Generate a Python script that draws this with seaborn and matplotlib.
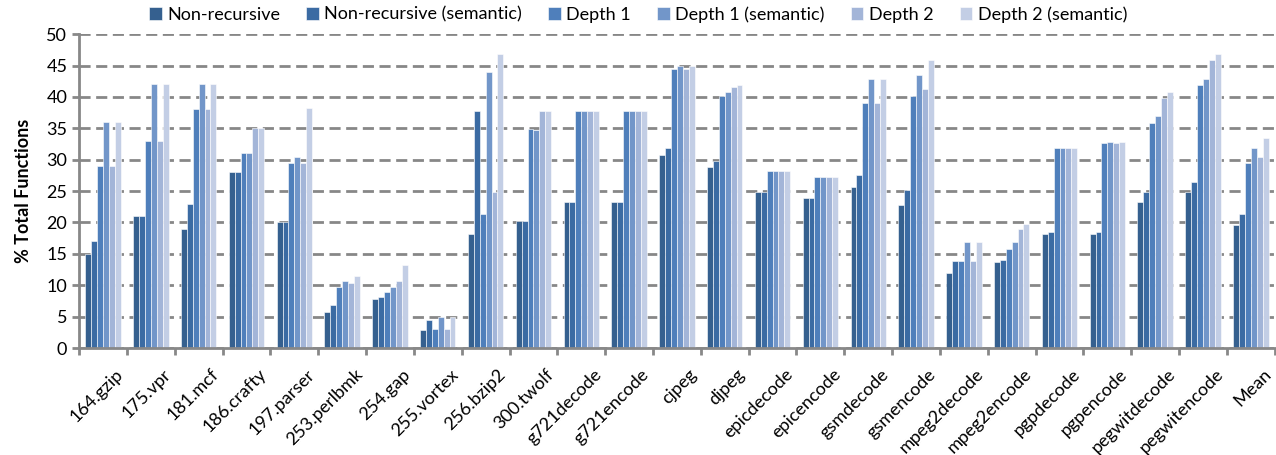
import matplotlib.pyplot as plt
import matplotlib.ticker as mticker
import matplotlib.transforms as mtrans
import pandas as pd
import seaborn as sb
import numpy as np

benchmarks = ['164.gzip', '175.vpr', '181.mcf', '186.crafty', '197.parser', '253.perlbmk',
              '254.gap', '255.vortex', '256.bzip2', '300.twolf', 'g721decode', 'g721encode',
              'cjpeg', 'djpeg', 'epicdecode', 'epicencode', 'gsmdecode', 'gsmencode',
              'mpeg2decode', 'mpeg2encode', 'pgpdecode', 'pgpencode', 'pegwitdecode',
              'pegwitencode', 'Mean']
series = ['Non-recursive', 'Non-recursive (semantic)', 'Depth 1', 'Depth 1 (semantic)',
          'Depth 2', 'Depth 2 (semantic)']

non_rec = [15, 21, 19, 28, 20, 5.7, 7.8, 2.8, 18.2, 20.3, 23.2, 23.2, 30.8, 28.9, 24.9,
           23.9, 25.7, 22.8, 11.9, 13.7, 18.2, 18.2, 23.2, 24.9, 19.6]
non_rec_sem = [17, 21, 23, 28, 20, 6.9, 8.2, 4.4, 37.8, 20.3, 23.2, 23.2, 31.9, 29.8, 24.9,
               23.9, 27.6, 25.2, 13.9, 14.1, 18.5, 18.5, 24.9, 26.4, 21.4]
depth1 = [29, 33, 38, 31, 29.5, 9.8, 8.9, 3.0, 21.4, 34.9, 37.8, 37.8, 44.4, 40.2, 28.2,
          27.3, 39.0, 40.2, 13.9, 15.7, 31.9, 32.6, 35.8, 41.9, 29.4]
depth1_sem = [36, 42, 42, 31, 30.4, 10.7, 9.8, 5.0, 44.0, 34.8, 37.8, 37.8, 44.9, 40.8, 28.2,
              27.3, 42.9, 43.5, 16.9, 16.9, 31.9, 32.8, 36.9, 42.9, 31.9]
depth2 = [29, 33, 38, 35, 29.5, 10.3, 10.7, 3.0, 24.9, 37.8, 37.8, 37.8, 44.4, 41.5, 28.2,
          27.3, 39.0, 41.3, 13.9, 18.9, 31.9, 32.6, 39.9, 45.9, 30.5]
depth2_sem = [36, 42, 42, 35, 38.2, 11.4, 13.2, 4.9, 46.9, 37.8, 37.8, 37.8, 44.9, 41.9, 28.2,
              27.3, 42.9, 45.9, 16.9, 19.8, 31.9, 32.8, 40.8, 46.9, 33.5]

colors = ['#35608f', '#3b6ba3', '#4f7fbb', '#7296c9', '#a3b5d8', '#c3cee5']

values = [non_rec, non_rec_sem, depth1, depth1_sem, depth2, depth2_sem]
df = pd.DataFrame({
    'bench': np.tile(benchmarks, len(series)),
    'series': np.repeat(series, len(benchmarks)),
    'pct': np.concatenate(values),
})

plt.rcParams['font.family'] = ['Lato', 'DejaVu Sans']
fs = 13
fig = plt.figure(figsize=[12.76, 4.55], dpi=100)
ax = fig.add_axes([0.062, 0.235, 0.937, 0.69])

sb.barplot(data=df, x='bench', y='pct', hue='series', order=benchmarks, hue_order=series,
           palette=colors, width=0.74, gap=0, edgecolor='white', linewidth=0.4,
           saturation=1, ax=ax)

ax.set_ylim(0, 50)
ax.set_xlim(-0.5, len(benchmarks) - 0.5)
ax.yaxis.set_major_locator(mticker.MultipleLocator(5))
ax.yaxis.grid(True, linestyle=(0, (4, 2)), color='#878787', linewidth=2)
ax.set_axisbelow(True)
for s in ['top', 'right']:
    ax.spines[s].set_visible(False)
for s in ['left', 'bottom']:
    ax.spines[s].set_color('#888888')
    ax.spines[s].set_linewidth(2)

ax.set_xticks(range(len(benchmarks)))
ax.set_xticklabels(benchmarks, rotation=45, ha='right', rotation_mode='anchor', fontsize=fs)
ax.tick_params(axis='x', length=0, pad=13)
shift = mtrans.ScaledTranslation(12 / 100, 0, fig.dpi_scale_trans)
for lab in ax.get_xticklabels():
    lab.set_transform(lab.get_transform() + shift)
ax.set_xticks(np.arange(-0.5, len(benchmarks)), minor=True)
ax.tick_params(axis='x', which='minor', length=5, width=2, color='#888888')
ax.tick_params(axis='y', length=5, width=2, color='#888888', labelsize=fs)

ax.set_xlabel('')
ax.set_ylabel('% Total Functions', fontsize=fs, fontweight='bold', labelpad=10)

handles, labels = ax.get_legend_handles_labels()
ax.legend(handles, labels, loc='center', bbox_to_anchor=(0.5, 0.968),
          bbox_transform=fig.transFigure, ncol=6, frameon=False, fontsize=fs,
          handlelength=0.7, handleheight=0.7, handletextpad=0.3, columnspacing=1.45)

plt.savefig('out.png')
